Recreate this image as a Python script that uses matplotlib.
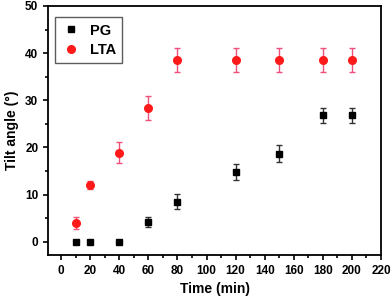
import numpy as np
import matplotlib
matplotlib.use('Agg')
from matplotlib import pyplot as plt
from matplotlib.ticker import MultipleLocator
from matplotlib.lines import Line2D

plt.rcParams['font.family'] = ['Liberation Sans', 'DejaVu Sans']
plt.rcParams['font.weight'] = 'bold'

# data
time = [10, 20, 40, 60, 80, 120, 150, 180, 200]
pg = [0, 0, 0, 4.2, 8.5, 14.7, 18.7, 26.8, 26.8]
pg_err = [0, 0, 0, 1.1, 1.6, 1.7, 1.8, 1.6, 1.6]
lta = [4.0, 12.0, 18.9, 28.4, 38.6, 38.6, 38.6, 38.6, 38.6]
lta_err = [1.2, 0.8, 2.3, 2.5, 2.5, 2.5, 2.5, 2.5, 2.5]

fig = plt.figure(figsize=(3.92, 2.97), dpi=100)
ax = fig.add_axes([0.1224, 0.1414, 0.8496, 0.8386])

ax.errorbar(time, pg, yerr=pg_err, fmt='s', color='black', ecolor='#333333',
            ms=5, elinewidth=1, capsize=2.5, capthick=1)
ax.errorbar(time, lta, yerr=lta_err, fmt='o', color='#ff1a1a', ecolor='#f0507a',
            ms=5.5, elinewidth=1, capsize=2.5, capthick=1)

ax.set_xlim(-9, 220)
ax.set_ylim(-2.8, 50)
ax.xaxis.set_major_locator(MultipleLocator(20))
ax.xaxis.set_minor_locator(MultipleLocator(10))
ax.yaxis.set_major_locator(MultipleLocator(10))
ax.yaxis.set_minor_locator(MultipleLocator(5))
ax.tick_params(which='both', direction='out', top=False, right=False, labelsize=8.5)
ax.tick_params(which='major', length=3.5, width=1.2)
ax.tick_params(which='minor', length=2, width=1.2)
for s in ax.spines.values():
    s.set_linewidth(1.3)

ax.set_xlabel('Time (min)', fontsize=10, fontweight='bold')
ax.set_ylabel('Tilt angle (°)', fontsize=10, fontweight='bold')

handles = [Line2D([], [], ls='none', marker='s', color='black', ms=4.5),
           Line2D([], [], ls='none', marker='o', color='#ff1a1a', ms=5.5)]
leg = ax.legend(handles, ['PG', 'LTA'], loc='upper left', fontsize=10.5,
                handletextpad=0.7, borderpad=0.45, labelspacing=0.35,
                fancybox=False, edgecolor='#333333', handlelength=1.2,
                bbox_to_anchor=(0.0, 0.985))
leg.get_frame().set_linewidth(1)

fig.savefig('out.png', dpi=100)
